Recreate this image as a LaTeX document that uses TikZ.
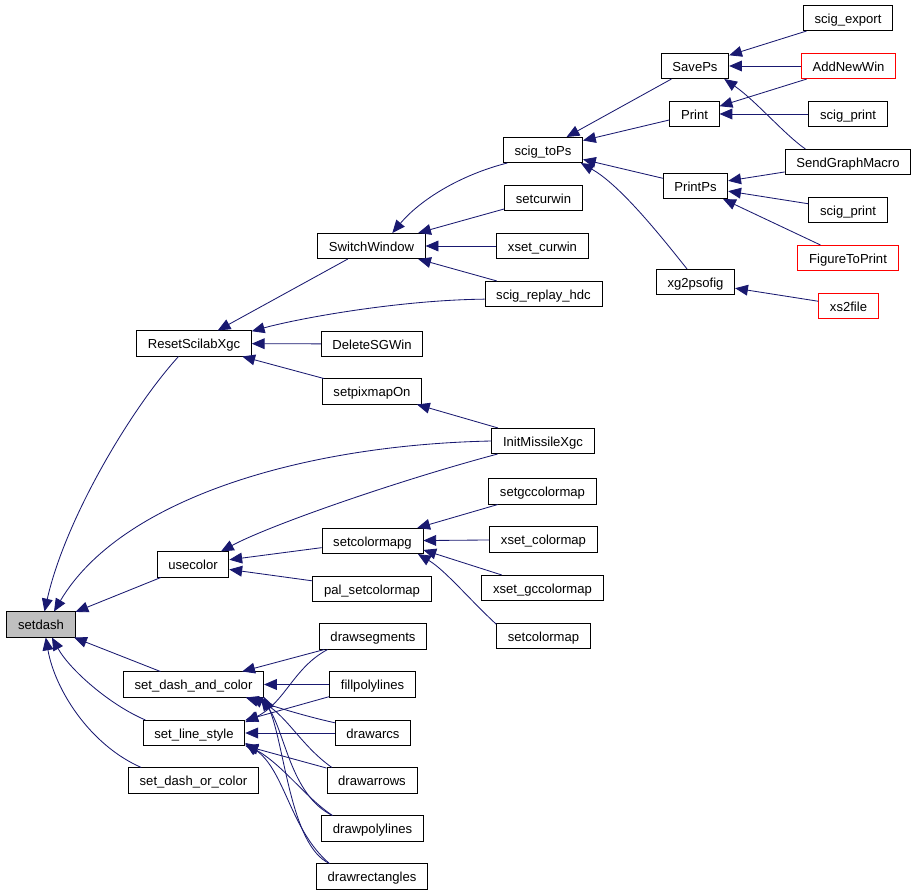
\documentclass[tikz,border=0pt]{standalone}
\usepackage{fontspec}
\setmainfont{Liberation Sans}
\usetikzlibrary{arrows.meta}
\definecolor{edgeblue}{HTML}{191970}
\tikzset{
  fn/.style={rectangle, draw, line width=0.6pt, inner xsep=0.28cm, inner ysep=0pt,
    minimum height=0.63cm, text height=0.74em, text depth=0pt,
    font=\fontsize{9.3}{11}\selectfont},
  fnred/.style={fn, draw=red},
  fncur/.style={fn, fill=black!25},
  call/.style={draw=edgeblue, line width=0.6pt, -{Triangle[length=3.2mm,width=2.7mm]}}
}

\begin{document}
\begin{tikzpicture}[x=0.025cm, y=-0.025cm]
        \useasboundingbox (0,0) rectangle (917,893);

        % column 1
        \node[fncur] (setdash) at (41,624.5) {setdash};
        % column 2
        \node[fn] (reset) at (194,343.5) {ResetScilabXgc};
        \node[fn] (usecolor) at (193,564.5) {usecolor};
        \node[fn] (sdac) at (193.5,684.5) {set\_dash\_and\_color};
        \node[fn] (sls) at (194,733) {set\_line\_style};
        \node[fn] (sdoc) at (193.5,780.5) {set\_dash\_or\_color};
        % column 3
        \node[fn] (switchwin) at (371.5,246) {SwitchWindow};
        \node[fn] (deletesg) at (372,344) {DeleteSGWin};
        \node[fn] (pixmapon) at (372,391.5) {setpixmapOn};
        \node[fn] (cmapg) at (372.5,541) {setcolormapg};
        \node[fn] (palcmap) at (372,589) {pal\_setcolormap};
        \node[fn] (drawseg) at (373,636.5) {drawsegments};
        \node[fn] (fillpoly) at (372.5,684.5) {fillpolylines};
        \node[fn] (drawarcs) at (373,733) {drawarcs};
        \node[fn] (drawarrows) at (372,780.5) {drawarrows};
        \node[fn] (drawpoly) at (372.5,828.5) {drawpolylines};
        \node[fn] (drawrect) at (372,876.5) {drawrectangles};
        % column 4
        \node[fn] (toPs) at (543,150) {scig\_toPs};
        \node[fn] (setcurwin) at (543.5,198) {setcurwin};
        \node[fn] (xcurwin) at (542.5,246) {xset\_curwin};
        \node[fn] (replay) at (543.5,294) {scig\_replay\_hdc};
        \node[fn] (initmx) at (543,441) {InitMissileXgc};
        \node[fn] (gccmap) at (542.5,491.5) {setgccolormap};
        \node[fn] (xcmap) at (543.5,539.5) {xset\_colormap};
        \node[fn] (xgccmap) at (542.5,588) {xset\_gccolormap};
        \node[fn] (setcmap) at (543.5,636) {setcolormap};
        % column 5
        \node[fn] (saveps) at (695,66) {SavePs};
        \node[fn] (print) at (694.5,114) {Print};
        \node[fn] (printps) at (695.5,186) {PrintPs};
        \node[fn] (xg2ps) at (695.5,282) {xg2psofig};
        % column 6
        \node[fn] (export) at (848,18) {scig\_export};
        \node[fnred] (addwin) at (848.5,66) {AddNewWin};
        \node[fn] (sprint1) at (848,114) {scig\_print};
        \node[fn] (sendgm) at (848,162) {SendGraphMacro};
        \node[fn] (sprint2) at (848,210) {scig\_print};
        \node[fnred] (fig2p) at (848,258) {FigureToPrint};
        \node[fnred] (xs2file) at (848.5,306) {xs2file};

        % straight calls
        \foreach \a/\b in {switchwin/reset, deletesg/reset, pixmapon/reset, initmx/pixmapon,
            cmapg/usecolor, palcmap/usecolor, gccmap/cmapg, xcmap/cmapg, xgccmap/cmapg.-10,
            setcurwin/switchwin, xcurwin/switchwin, replay/switchwin,
            saveps/toPs, print/toPs, printps/toPs, export/saveps, addwin/saveps, addwin/print,
            sprint1/print, sendgm/printps, sprint2/printps, fig2p/printps, xs2file/xg2ps,
            usecolor/setdash.20, sdac/setdash, drawseg/sdac, fillpoly/sdac,
            fillpoly/sls.14, drawarcs/sls, drawarrows/sls.-14} {
            \draw[call] (\a) -- (\b);
        }

        % curved calls
        \draw[call] (reset.-140) .. controls (130,410) and (65,520) .. (setdash.75);
        \draw[call] (initmx.west) .. controls (300,445) and (120,500) .. (setdash.45);
        \draw[call] (sls.165) .. controls (110,705) and (70,670) .. (setdash.-50);
        \draw[call] (sdoc.166) .. controls (90,745) and (55,690) .. (setdash.-70);
        \draw[call] (replay.-175) .. controls (400,300) and (300,318) .. (reset.12);
        \draw[call] (toPs.-160) .. controls (460,175) and (420,200) .. (switchwin.32);
        \draw[call] (xg2ps.123) .. controls (660,235) and (620,185) .. (toPs.-19);
        \draw[call] (sendgm.163) .. controls (785,135) and (755,100) .. (saveps.-24);
        \draw[call] (initmx.-164) .. controls (400,480) and (270,525) .. (usecolor.25);
        \draw[call] (setcmap.166) .. controls (470,600) and (445,570) .. (cmapg.-16);

        \draw[call] (drawarcs.165) .. controls (300,715) and (270,705) .. (sdac.-14);
        \draw[call] (drawarrows.162) .. controls (300,745) and (285,712) .. (sdac.-13);
        \draw[call] (drawpoly.162) .. controls (290,795) and (285,730) .. (sdac.-11);
        \draw[call] (drawrect.163) .. controls (290,845) and (285,745) .. (sdac.-10);
        \draw[call] (drawseg.-164) .. controls (293,668) and (285,703) .. (sls.12);
        \draw[call] (drawpoly.162) .. controls (305,797) and (283,765) .. (sls.-12);
        \draw[call] (drawrect.163) .. controls (290,830) and (285,770) .. (sls.-11);
\end{tikzpicture}
\end{document}
